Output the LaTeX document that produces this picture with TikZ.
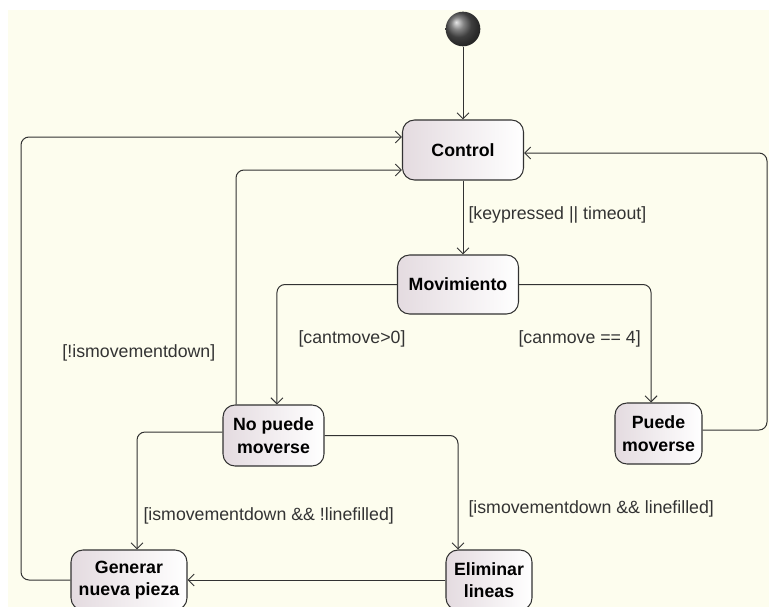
\documentclass[tikz,border=0pt]{standalone}
\usepackage{fontspec}
\setmainfont{Liberation Sans}
\usepackage{xcolor}
\usepackage{tikz}
\usetikzlibrary{arrows.meta,shapes}
\definecolor{fondo}{RGB}{253,253,238}
\definecolor{grisrosa}{RGB}{228,219,224}
\definecolor{linea}{RGB}{50,50,50}
\tikzset{estado/.style={rectangle,rounded corners=9pt,draw=linea,line width=0.8pt,left color=grisrosa,right color=white,font=\fontsize{13.3}{17}\selectfont\bfseries,align=center,inner sep=2pt,minimum height=45pt}}
\tikzset{inicio/.style={circle,shading=ball,ball color=black!65,minimum size=26pt,inner sep=0pt}}
\tikzset{guarda/.style={anchor=west,inner sep=0pt,text=black!80,font=\fontsize{13.3}{16}\selectfont}}

\begin{document}
\begin{tikzpicture}[x=0.75pt,y=-0.75pt,>={Straight Barb[length=4.5pt,width=9pt]},line width=0.75pt,draw=linea]
    \useasboundingbox (0,0) rectangle (769,607);
    \fill[fondo] (8,10) rectangle (769,607);

    \node[inicio] (init)at (463,29) {};
    \node[estado,minimum width=90.75pt] (ctrl)at (463,150) {Control};
    \node[estado,minimum width=90.75pt,minimum height=44.25pt] (mov)at (458,284.5) {Movimiento};
    \node[estado,minimum width=75.75pt,minimum height=45.75pt] (nopuede)at (273.5,435.5) {No puede\\moverse};
    \node[estado,minimum width=65.25pt,minimum height=45.75pt] (puede)at (658.5,433.5) {Puede\\moverse};
    \node[estado,minimum width=87pt] (gen)at (129,580) {Generar\\nueva pieza};
    \node[estado,minimum width=64.5pt] (elim)at (489,580) {Eliminar\\lineas};

    \coordinate (dcha) at (767,153);
    \coordinate (izq1) at (236,170);
    \coordinate (izq2) at (21,137);

    \draw [->] (init) to (ctrl);
    \draw [->] (ctrl) to (ctrl |- mov.north);
    \draw [->,rounded corners=6pt] (mov.west) -| ([xshift=2.6pt]nopuede.north);
    \draw [->,rounded corners=6pt] (mov.east) -| ([xshift=-5.6pt]puede.north);
    \draw [->,rounded corners=6pt] ([yshift=2.6pt]puede.east) -| (dcha) -- (dcha -| ctrl.east);
    \draw [->,rounded corners=6pt] (izq1 |- nopuede.north) |- (izq1 -| ctrl.west);
    \draw [->,rounded corners=6pt] (gen.west) -| (izq2) -- (izq2 -| ctrl.west);
    \draw [->,rounded corners=6pt] ([yshift=2.6pt]nopuede.west) -| ([xshift=6pt]gen.north);
    \draw [->,rounded corners=6pt] (nopuede.east) -| ([xshift=-23.25pt]elim.north);
    \draw [->] (elim.west) to (gen.east);

    \node[guarda] (g1)at (468,215) {[keypressed || timeout]};
    \node[guarda] (g2)at (298,339) {[cantmove>0]};
    \node[guarda] (g3)at (518,339) {[canmove == 4]};
    \node[guarda] (g4)at (62,353) {[!ismovementdown]};
    \node[guarda] (g5)at (143,516) {[ismovementdown \&\& !linefilled]};
    \node[guarda] (g6)at (468,509) {[ismovementdown \&\& linefilled]};
\end{tikzpicture}
\end{document}
